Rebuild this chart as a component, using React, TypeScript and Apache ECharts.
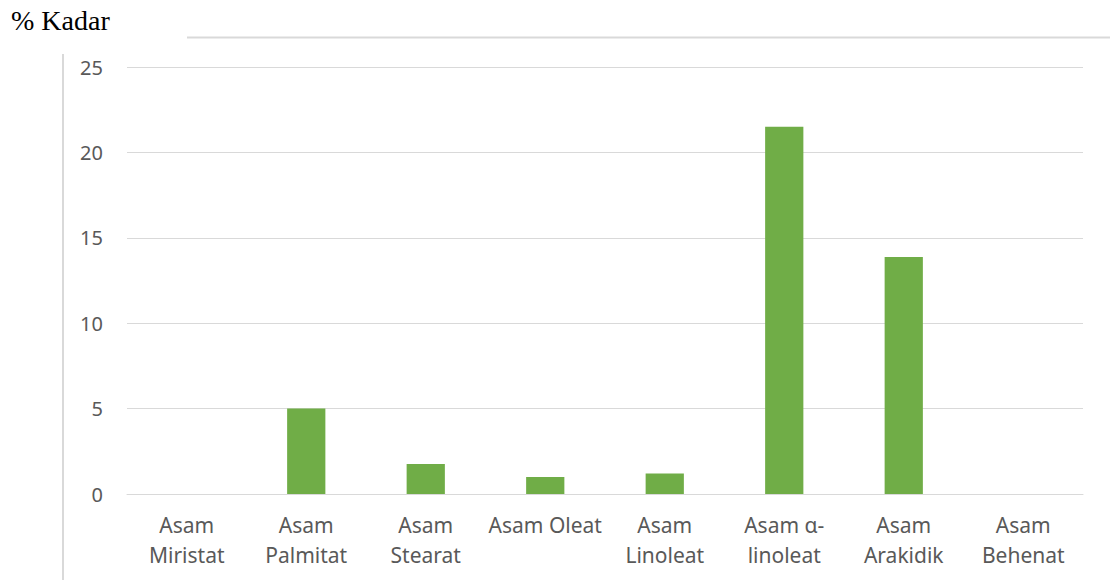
import React, { useEffect, useRef } from "react";
import * as echarts from "echarts";

// Fatty acid composition (% Kadar)
const categories = [
  "Asam\nMiristat",
  "Asam\nPalmitat",
  "Asam\nStearat",
  "Asam Oleat",
  "Asam\nLinoleat",
  "Asam α-\nlinoleat",
  "Asam\nArakidik",
  "Asam\nBehenat",
];
const kadar = [0, 5.0, 1.76, 1.0, 1.2, 21.5, 13.87, 0];
const yTicks = { min: 0, max: 25, interval: 5 };

export default function App() {
  const ref = useRef<HTMLDivElement>(null);

  useEffect(() => {
    if (!ref.current) return;
    const chart = echarts.init(ref.current, undefined, { renderer: "svg" });
    chart.setOption({
      animation: false,
      backgroundColor: "#ffffff",
      grid: { left: 127, right: 27, top: 67, bottom: 86 },
      xAxis: {
        type: "category",
        data: categories,
        axisLine: { show: true, lineStyle: { color: "#d9d9d9", width: 1 } },
        axisTick: { show: false },
        axisLabel: {
          color: "#595959",
          fontFamily: "Noto Sans",
          fontSize: 21,
          lineHeight: 30,
          margin: 16,
          interval: 0,
        },
      },
      yAxis: {
        type: "value",
        min: yTicks.min,
        max: yTicks.max,
        interval: yTicks.interval,
        axisLine: { show: false },
        axisTick: { show: false },
        splitLine: { lineStyle: { color: "#d9d9d9", width: 1 } },
        axisLabel: {
          color: "#595959",
          fontFamily: "Noto Sans",
          fontSize: 20,
          margin: 24,
        },
      },
      series: [
        {
          type: "bar",
          data: kadar,
          barWidth: "32%",
          itemStyle: { color: "#70ad47" },
        },
      ],
      graphic: [
        {
          type: "text",
          left: 11,
          top: 6,
          style: {
            text: "% Kadar",
            font: '28px "Liberation Serif", "DejaVu Serif", serif',
            fill: "#000000",
          },
        },
        {
          type: "line",
          shape: { x1: 187, y1: 37.5, x2: 1110, y2: 37.5 },
          style: { stroke: "#d9d9d9", lineWidth: 2 },
        },
        {
          type: "line",
          shape: { x1: 63, y1: 54, x2: 63, y2: 580 },
          style: { stroke: "#d9d9d9", lineWidth: 2 },
        },
      ],
    });
    return () => chart.dispose();
  }, []);

  return (
    <div
      ref={ref}
      style={{ position: "fixed", left: 0, top: 0, width: 1110, height: 580 }}
    />
  );
}
